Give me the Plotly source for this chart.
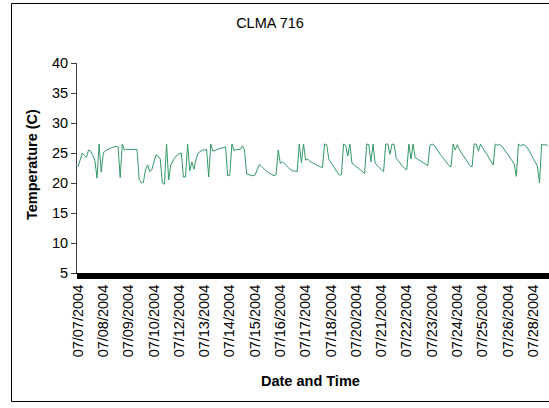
import plotly.graph_objects as go

title_text = "CLMA 716"
y_title = "Temperature (C)"
x_title = "Date and Time"

# tick labels shown every 12 readings
tick_labels = ["07/07/2004", "07/08/2004", "07/09/2004", "07/10/2004", "07/12/2004",
               "07/13/2004", "07/14/2004", "07/15/2004", "07/16/2004", "07/17/2004",
               "07/18/2004", "07/20/2004", "07/21/2004", "07/22/2004", "07/23/2004",
               "07/24/2004", "07/25/2004", "07/26/2004", "07/28/2004"]
label_every = 12

temperature = [
    22.7, 23.8, 25.0, 24.6, 24.3, 25.5, 25.3, 24.6, 23.7, 20.8, 26.5, 21.8,
    25.0, 25.4, 25.6, 25.8, 25.9, 26.0, 26.1, 26.0, 20.9, 26.5, 25.5, 25.6,
    25.6, 25.6, 25.7, 25.7, 25.6, 20.6, 20.0, 20.1, 22.2, 23.0, 21.9, 22.2,
    23.6, 24.7, 24.5, 24.0, 20.0, 19.8, 26.5, 20.5, 23.0, 23.8, 24.3, 24.6,
    24.9, 25.0, 21.0, 21.0, 26.5, 22.0, 23.5, 22.3, 24.0, 25.0, 25.3, 25.5,
    25.5, 25.6, 21.0, 26.5, 25.3, 25.5, 25.6, 25.7, 25.8, 25.9, 26.0, 21.2,
    21.3, 26.5, 25.4, 25.6, 25.6, 25.6, 26.2, 25.5, 21.5, 21.4, 21.3, 21.2,
    21.3, 22.4, 23.1, 22.8, 22.4, 22.1, 21.8, 21.6, 21.3, 21.2, 21.4, 25.5,
    23.3, 23.5, 23.2, 22.8, 22.5, 22.2, 22.0, 22.0, 21.9, 26.5, 23.4, 26.5,
    23.8, 24.0, 23.6, 23.4, 23.2, 23.0, 22.8, 22.7, 22.6, 26.5, 26.4, 24.0,
    23.4, 22.8, 22.3, 21.8, 21.3, 21.4, 26.5, 26.3, 24.5, 26.5, 23.3, 23.0,
    22.7, 22.4, 22.1, 21.8, 21.6, 26.5, 26.4, 23.5, 26.5, 23.3, 22.9, 22.6,
    22.2, 21.9, 26.5, 26.5, 24.8, 26.5, 26.4, 24.1, 23.6, 23.2, 22.8, 22.4,
    22.2, 26.5, 24.0, 26.5, 24.2, 24.0, 23.8, 23.6, 23.4, 23.2, 22.9, 26.3,
    26.5, 26.3, 25.7, 25.2, 24.7, 24.3, 23.8, 23.3, 22.9, 22.7, 26.5, 25.5,
    26.4, 25.5, 25.0, 24.5, 23.9, 23.3, 22.9, 22.7, 26.5, 26.5, 25.3, 26.5,
    25.8, 25.3, 24.8, 24.2, 23.6, 23.0, 26.5, 26.3, 26.4, 26.2, 25.7, 25.2,
    24.7, 24.2, 23.7, 23.2, 21.1, 26.5, 26.2, 26.4, 26.3, 26.0, 25.4, 24.8,
    24.2, 23.6, 22.8, 20.0, 26.5, 26.3, 26.4, 26.2,
]
y_ticks = [5, 10, 15, 20, 25, 30, 35, 40]

n = len(temperature)
idx = list(range(n))
tickvals = [i * label_every for i in range(len(tick_labels))]

FONT = "Liberation Sans, Arial, sans-serif"

fig = go.Figure()
fig.add_trace(go.Scatter(x=idx, y=temperature, mode="lines",
                         line=dict(color="#339966", width=1), showlegend=False))

W, H = 549, 408
ml, mr, mt = 77, 0, 63
mb = H - 273
pw, ph = W - ml - mr, H - mt - mb

def px(xs):
    return (xs - ml) / pw

def py(ys):
    return (H - mb - ys) / ph

frame = dict(color="black", width=1)
fx0, fx1, fy0, fy1 = px(11.5), px(549), py(401.5), py(3.5)

fig.update_layout(
    width=W, height=H,
    margin=dict(l=ml, r=mr, t=mt, b=mb, pad=0, autoexpand=False),
    paper_bgcolor="white", plot_bgcolor="white",
    font=dict(family=FONT, size=14, color="black"),
    title=dict(text=title_text, x=px(270), xref="paper", xanchor="center",
               y=1 - 23 / H, yanchor="middle", font=dict(size=14.5),
               automargin=False),
    xaxis=dict(range=[-0.5, n - 0.5], tickmode="array", tickvals=tickvals,
               ticktext=tick_labels, tickangle=-90, showgrid=False, zeroline=False,
               automargin=False,
               showline=True, linecolor="black", linewidth=1,
               ticks="outside", ticklen=5, tickwidth=3, tickcolor="black",
               tickfont=dict(size=14.5),
               minor=dict(tickmode="linear", tick0=0, dtick=1, ticks="outside",
                          ticklen=5, tickwidth=3, tickcolor="black", showgrid=False)),
    yaxis=dict(range=[5, 40], tickmode="array", tickvals=y_ticks,
               automargin=False,
               showgrid=False, zeroline=False, showline=True, linecolor="#404040",
               linewidth=1, ticks="outside", ticklen=5, tickcolor="#404040",
               tickfont=dict(size=14.5)),
    annotations=[
        dict(text="<b>" + x_title + "</b>", xref="paper", yref="paper",
             x=px(310), y=py(381), xanchor="center", yanchor="middle",
             showarrow=False, font=dict(size=14.5)),
        dict(text="<b>" + y_title + "</b>", xref="paper", yref="paper",
             x=px(32), y=py(165), xanchor="center", yanchor="middle",
             textangle=-90, showarrow=False, font=dict(size=14.5)),
    ],
    shapes=[
        dict(type="line", xref="paper", yref="paper", x0=fx0, x1=fx0, y0=fy0, y1=fy1,
             line=frame, layer="below"),
        dict(type="line", xref="paper", yref="paper", x0=fx0, x1=fx1, y0=fy1, y1=fy1,
             line=frame, layer="below"),
        dict(type="line", xref="paper", yref="paper", x0=fx0, x1=fx1, y0=fy0, y1=fy0,
             line=frame, layer="below"),
    ],
)

# remove the default page margin so the figure sits at the window's top-left corner
fig.write_html("out.html", config={"displayModeBar": False},
               post_script="document.body.style.margin='0';"
                           "document.documentElement.style.overflow='hidden';")
